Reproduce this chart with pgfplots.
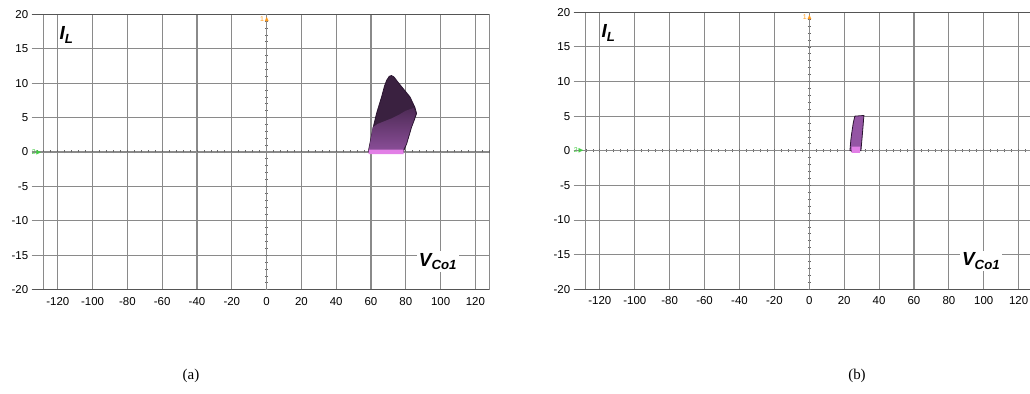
\documentclass[border=0pt]{standalone}
\usepackage{amssymb}
\usepackage{pgfplots}
\pgfplotsset{compat=1.18}
\usepackage{fontspec}
\setmainfont{Liberation Sans}
\newfontfamily\capfont{Liberation Serif}
\definecolor{gridc}{HTML}{8A8A8A}
\definecolor{framec}{HTML}{555555}
\definecolor{darkp}{HTML}{3A2140}
\definecolor{midp}{HTML}{4E2B56}
\definecolor{lightp}{HTML}{8A4E98}
\definecolor{rightp}{HTML}{9455A4}
\definecolor{pinkp}{HTML}{E27FE6}
\definecolor{edgep}{HTML}{2A1430}
\definecolor{gmark}{HTML}{44CC44}
\definecolor{omark}{HTML}{FF9A1A}
\pgfplotsset{
  outer/.style={
    scale only axis, anchor=south west,
    ymin=-20, ymax=20,
    xtick={-120,-100,...,120}, ytick={-20,-15,...,20},
    grid=major, grid style={gridc, line width=1.1pt},
    axis line style={draw=none}, tick style={draw=none},
    ticklabel style={font=\fontsize{11.5}{13}\selectfont},
    xticklabel style={yshift=-4bp},
    /pgf/number format/assume math mode=true,
    clip=false,
  },
  inner/.style={
    scale only axis, anchor=south west,
    ymin=-20, ymax=20,
    axis lines=center, axis line style={gridc, line width=0.9pt, -},
    xtick distance=4, ytick distance=1,
    xticklabels={}, yticklabels={},
    tick align=center, major tick length=3bp,
    tick style={black!60, line width=0.8pt},
  },
}
\begin{document}
\begin{tikzpicture}
\path[use as bounding box] (0,0) rectangle (1030bp,394bp);
% ---------- panel (a) ----------
\begin{axis}[outer, at={(31.7bp,104.3bp)}, width=457.6bp, height=275.4bp,
  xmin=-135, xmax=128, extra x ticks={-128,128}, extra x tick labels={}]
\draw[framec, line width=1.1pt] (rel axis cs:0,0) -- (rel axis cs:1,0);
\draw[framec, line width=1.1pt] (rel axis cs:0,1) -- (rel axis cs:1,1);
\end{axis}
\begin{axis}[inner, at={(31.7bp,104.3bp)}, width=457.6bp, height=275.4bp,
  xmin=-135, xmax=128]
\addplot[draw=edgep, line width=0.8pt, fill=darkp] coordinates {
 (58.4,0) (60.0,2.0) (61.3,3.6) (63.2,5.6) (66.1,8.0) (67.8,9.6) (69.0,10.4)
 (70.5,11.0) (71.8,11.1) (73.2,10.9) (74.7,10.4) (77.2,9.6) (79.5,8.9)
 (82.4,8.0) (85.2,6.5) (86.2,5.6) (84.8,4.6) (83.3,3.6) (81.9,2.4) (80.5,1.2) (78.5,0) (58.4,0)};
\addplot[draw=none, top color=midp, bottom color=lightp] coordinates {
 (58.7,0.2) (60.0,2.0) (61.0,3.6) (64,4.1) (68,4.5) (72,4.9) (76,5.4) (80,6.0) (84.6,6.4)
 (85.7,5.6) (84.5,4.6) (83.0,3.6) (81.6,2.4) (80.2,1.2) (78.3,0.2) (58.7,0.2)};
\addplot[draw=none, fill=pinkp] coordinates {
 (58.6,-0.3) (78.8,-0.3) (78.8,0.35) (58.6,0.35) (58.6,-0.3)};
\node[inner sep=1.5pt, text=gmark, font=\fontsize{7}{7}\selectfont] at (axis cs:-132,0) {2$\blacktriangleright$};
\node[inner sep=1pt, text=omark, font=\fontsize{7}{7}\selectfont] at (axis cs:-1,19.3) {1$\blacktriangle$};
\node[fill=white, inner sep=2pt, font=\fontsize{19}{22}\selectfont\bfseries\itshape] at (axis cs:-115,17) {I\textsubscript{L}};
\node[fill=white, inner sep=2pt, font=\fontsize{19}{22}\selectfont\bfseries\itshape] at (axis cs:98.5,-15.9) {V\textsubscript{Co1}};
\end{axis}
% ---------- panel (b) ----------
\begin{axis}[outer, at={(573.7bp,104.7bp)}, width=456.3bp, height=277bp,
  xmin=-135, xmax=126.5, extra x ticks={-128}, extra x tick labels={}]
\draw[framec, line width=1.1pt] (rel axis cs:0,0) -- (rel axis cs:1,0);
\draw[framec, line width=1.1pt] (rel axis cs:0,1) -- (rel axis cs:1,1);
\end{axis}
\begin{axis}[inner, at={(573.7bp,104.7bp)}, width=456.3bp, height=277bp,
  xmin=-135, xmax=126.5]
\addplot[draw=edgep, line width=0.8pt, fill=rightp] coordinates {
 (23.3,0) (23.8,1.5) (24.3,2.5) (25.2,4.0) (26.1,5.0) (31.3,5.1) (30.8,3.5) (30.3,2.0) (29.6,0) (23.3,0)};
\addplot[draw=none, fill=pinkp] coordinates {
 (24.3,-0.3) (29.0,-0.3) (29.0,0.6) (24.3,0.6) (24.3,-0.3)};
\node[inner sep=1.5pt, text=gmark, font=\fontsize{7}{7}\selectfont] at (axis cs:-132,0) {2$\blacktriangleright$};
\node[inner sep=1pt, text=omark, font=\fontsize{7}{7}\selectfont] at (axis cs:-1,19.3) {1$\blacktriangle$};
\node[fill=white, inner sep=2pt, font=\fontsize{19}{22}\selectfont\bfseries\itshape] at (axis cs:-115,17) {I\textsubscript{L}};
\node[fill=white, inner sep=2pt, font=\fontsize{19}{22}\selectfont\bfseries\itshape] at (axis cs:98.5,-15.9) {V\textsubscript{Co1}};
\end{axis}
\node[font=\capfont\fontsize{15}{18}\selectfont] at (191bp,18bp) {(a)};
\node[font=\capfont\fontsize{15}{18}\selectfont] at (857bp,18bp) {(b)};
\end{tikzpicture}
\end{document}
